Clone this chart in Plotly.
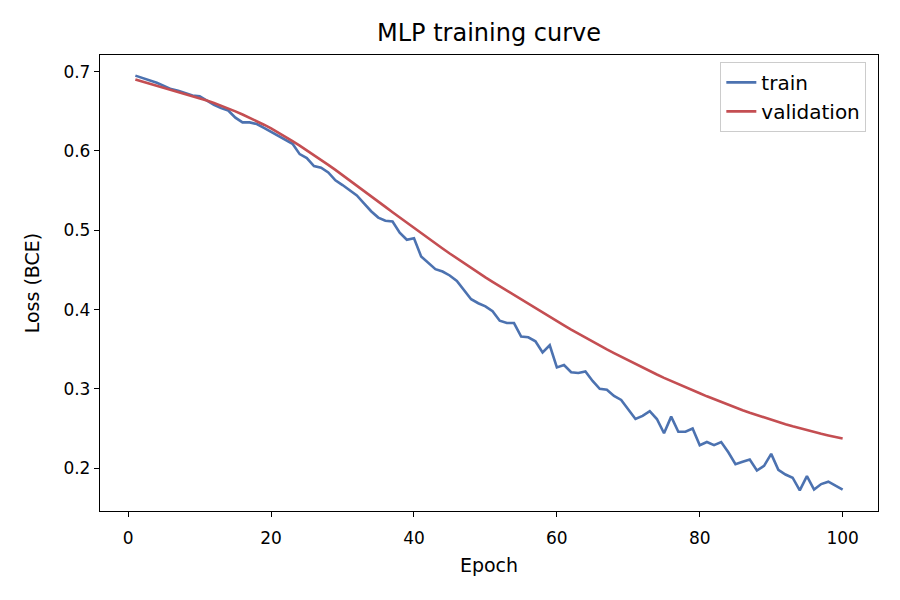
import plotly.graph_objects as go

epochs = list(range(1, 101))

train_loss = [
    0.695, 0.692, 0.689, 0.686, 0.682, 0.678, 0.676, 0.673, 0.670, 0.669,
    0.663, 0.658, 0.654, 0.651, 0.642, 0.636, 0.636, 0.634, 0.629, 0.624,
    0.618, 0.614, 0.609, 0.596, 0.591, 0.581, 0.579, 0.573, 0.563, 0.557,
    0.550, 0.544, 0.534, 0.524, 0.516, 0.512, 0.511, 0.497, 0.488, 0.490,
    0.467, 0.459, 0.451, 0.448, 0.443, 0.436, 0.424, 0.413, 0.408, 0.404,
    0.398, 0.386, 0.383, 0.383, 0.366, 0.365, 0.360, 0.346, 0.355, 0.327,
    0.330, 0.321, 0.320, 0.322, 0.310, 0.300, 0.299, 0.291, 0.286, 0.274,
    0.262, 0.266, 0.272, 0.262, 0.244, 0.265, 0.246, 0.246, 0.250, 0.229,
    0.233, 0.229, 0.233, 0.220, 0.205, 0.208, 0.211, 0.197, 0.203, 0.218,
    0.198, 0.192, 0.188, 0.172, 0.190, 0.173, 0.180, 0.183, 0.178, 0.173,
]

val_loss = [
    0.6900, 0.6874, 0.6848, 0.6822, 0.6796, 0.6770, 0.6744, 0.6718, 0.6692, 0.6666,
    0.6636, 0.6604, 0.6571, 0.6536, 0.6499, 0.6460, 0.6419, 0.6376, 0.6331, 0.6284,
    0.6233, 0.6180, 0.6125, 0.6068, 0.6009, 0.5949, 0.5888, 0.5825, 0.5761, 0.5696,
    0.5630, 0.5563, 0.5496, 0.5429, 0.5362, 0.5295, 0.5228, 0.5161, 0.5094, 0.5028,
    0.4963, 0.4898, 0.4834, 0.4770, 0.4707, 0.4645, 0.4584, 0.4524, 0.4465, 0.4407,
    0.4350, 0.4294, 0.4238, 0.4183, 0.4128, 0.4073, 0.4018, 0.3963, 0.3908, 0.3854,
    0.3800, 0.3747, 0.3695, 0.3644, 0.3594, 0.3545, 0.3497, 0.3450, 0.3404, 0.3359,
    0.3313, 0.3268, 0.3224, 0.3181, 0.3139, 0.3098, 0.3058, 0.3019, 0.2981, 0.2944,
    0.2906, 0.2869, 0.2833, 0.2798, 0.2764, 0.2731, 0.2699, 0.2668, 0.2638, 0.2609,
    0.2581, 0.2554, 0.2528, 0.2503, 0.2479, 0.2456, 0.2434, 0.2413, 0.2393, 0.2374,
]

x_ticks = [0, 20, 40, 60, 80, 100]
y_ticks = [0.2, 0.3, 0.4, 0.5, 0.6, 0.7]

FONT = "DejaVu Sans"

fig = go.Figure()
fig.add_trace(go.Scatter(x=epochs, y=train_loss, mode="lines", name="train",
                         line=dict(color="#4c72b0", width=2.6)))
fig.add_trace(go.Scatter(x=epochs, y=val_loss, mode="lines", name="validation",
                         line=dict(color="#c44e52", width=2.6)))

axis_common = dict(showline=True, linecolor="black", linewidth=1.3, mirror=True,
                   ticks="outside", ticklen=5, tickwidth=1.1, tickcolor="black",
                   showgrid=False, zeroline=False,
                   tickfont=dict(family=FONT, size=17, color="black"))

L, R, T, B = 100, 22, 55, 89
fig.update_layout(
    width=900, height=600,
    paper_bgcolor="white", plot_bgcolor="white",
    margin=dict(l=L, r=R, t=T, b=B),
    title=dict(text="MLP training curve", x=(L + (900 - R)) / 2 / 900, xanchor="center",
               y=1 - 33 / 600, yanchor="middle", yref="container",
               font=dict(family=FONT, size=24, color="black")),
    xaxis=dict(range=[-3.95, 104.95], tickvals=x_ticks, ticklabelstandoff=6,
               title=dict(text="Epoch", standoff=12, font=dict(family=FONT, size=19, color="black")),
               **axis_common),
    yaxis=dict(range=[0.146, 0.721], tickvals=y_ticks, ticktext=[f"{v:.1f}" for v in y_ticks],
               title=dict(text="Loss (BCE)", standoff=18, font=dict(family=FONT, size=19, color="black")),
               **axis_common),
    legend=dict(x=0.985, y=0.985, xanchor="right", yanchor="top",
                bgcolor="rgba(255,255,255,0.8)", bordercolor="#cccccc", borderwidth=1,
                font=dict(family=FONT, size=20, color="black")),
    showlegend=True,
)

fig.write_html("out.html")
